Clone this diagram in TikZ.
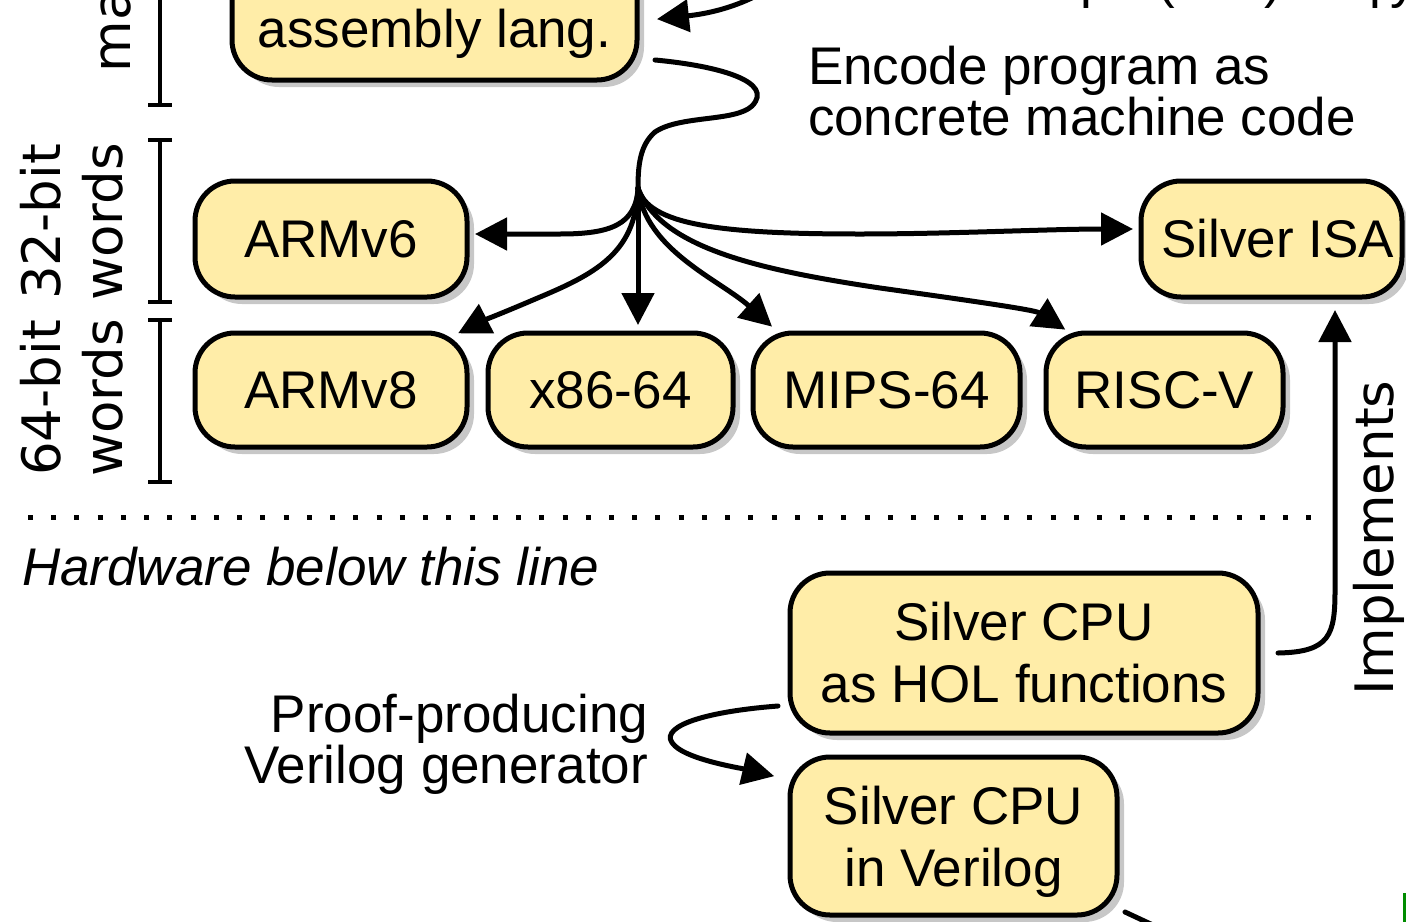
\documentclass[tikz,border=0pt]{standalone}
\usepackage{fontspec}
\setmainfont{Liberation Sans}
\newfontfamily\dejavu{DejaVu Sans}
\usetikzlibrary{arrows.meta,shadows,calc}
\definecolor{boxfill}{RGB}{255,237,168}
\newcommand\mfs{\fontsize{26.5pt}{31pt}\selectfont}
\newcommand\lfs{\fontsize{26.5pt}{24.5pt}\selectfont}
\newcommand\dfs{\dejavu\fontsize{26.5pt}{31pt}\selectfont}
\begin{document}
\begin{tikzpicture}[x=0.5pt,y=-0.5pt,
 box/.style={draw, line width=2.5pt, rounded corners=20pt, fill=boxfill, inner sep=0pt, outer sep=0pt, align=center, font=\mfs, drop shadow={shadow xshift=3.5pt, shadow yshift=-3.5pt, fill=black!22, opacity=1}},
 wire/.style={line width=2.5pt, line cap=round},
 conn/.style={wire, -{Triangle[length=16pt,width=16pt]}, shorten >=4pt},
 brk/.style={line width=2pt},
 lbl/.style={inner sep=0pt, outer sep=0pt, font=\lfs},
 rot/.style={inner sep=0pt, outer sep=0pt, font=\dfs, rotate=90},
]
\useasboundingbox (0,0) rectangle (1406,921);
\clip (0,0) rectangle (1406,921);

% boxes
\node[box, minimum width=202.5pt, minimum height=72pt] (asm) at (434.5,8) {};
\node[inner sep=0pt, font=\mfs, anchor=base] (asmtext) at (434.5,47) {assembly lang.};
\node[box, minimum width=136pt, minimum height=58pt] (armsix) at (331,239) {ARMv6};
\node[box, minimum width=136pt, minimum height=57pt] (armeight) at (331,390) {ARMv8};
\node[box, minimum width=122.5pt, minimum height=57pt] (xes) at (610.5,390) {x86-64};
\node[box, minimum width=133.5pt, minimum height=57pt] (mips) at (886.5,390) {MIPS-64};
\node[box, minimum width=118.5pt, minimum height=57pt] (riscv) at (1164.5,390) {RISC-V};
\node[box, minimum width=130.5pt, minimum height=58pt] (isa) at (1271.5,239) {\hspace*{6pt}Silver ISA};
\node[box, minimum width=234pt, minimum height=80pt] (hol) at (1024,653) {Silver CPU\\as HOL functions};
\node[box, minimum width=163.5pt, minimum height=79pt] (verilog) at (953.5,836) {\rule{0pt}{25pt}Silver CPU\\in Verilog};

% labels
\node[lbl, align=left, anchor=north west] (encode) at (808,46) {Encode program as\\concrete machine code};
\node[lbl, align=right, anchor=north east] (proof) at (648,694) {Proof-producing\\Verilog generator};
\node[lbl, anchor=base west, font=\mfs\itshape] (hw) at (22,585) {Hardware below this line};
\node[rot, align=center] (bitsa) at (72,222) {32-bit\\words};
\node[rot, align=center] (bitsb) at (72,398) {64-bit\\words};
\node[rot, anchor=base west] (ma) at (130,72) {ma};
\node[rot, anchor=base west] (impl) at (1393,695) {Implements};

% cut-off text at top right
\node[lbl, anchor=base west] (fa) at (1080,-3) {p};
\node[lbl, anchor=base west] (fb) at (1157,-3) {(};
\node[lbl, anchor=base west] (fc) at (1264,-3) {)};
\node[lbl, anchor=base west] (fd) at (1369,-3) {p};
\node[lbl, anchor=base west] (fe) at (1390,-3) {y};

% brackets
\draw[brk] (148,105) -- (172,105) (160,105) -- (160,-10);
\draw[brk] (148,140) -- (172,140) (160,140) -- (160,302) (148,302) -- (172,302);
\draw[brk] (148,320) -- (172,320) (160,320) -- (160,482) (148,482) -- (172,482);

% dotted separator
\draw[line width=2.5pt, dash pattern=on 2.5pt off 9.12pt] (28,517) -- (1312,517);

% connectors
\coordinate (asmsrc) at (775,-15);
\draw[conn] (asmsrc) .. controls (740,8) and (705,14) .. ([shift={(12,12)}]asm.east);

\coordinate (br) at (638,188);
\draw[wire] ([shift={(18,-20)}]asm.south east) .. controls (720,66) and (775,82) .. (752,106)
  .. controls (735,122) and (680,115) .. (655,132) .. controls (640,145) and (638,165) .. (br);

\draw[conn] (br) .. controls (636,225) and (610,234) .. (560,234) -- ([shift={(0,-5)}]armsix.east);
\draw[conn] (br) .. controls (648,225) and (720,234) .. (860,234) .. controls (950,234) and (1050,229) .. ([shift={(0,-10)}]isa.west);
\draw[conn] (br) .. controls (636,250) and (600,272) .. (540,297) .. controls (505,312) and (480,322) .. ([shift={(-16,4)}]armeight.north east);
\draw[conn] (br) -- (br |- xes.north);
\draw[conn] (br) .. controls (645,250) and (720,280) .. ([shift={(25,-1)}]mips.north west);
\draw[conn] (br) .. controls (660,248) and (760,270) .. (880,288) .. controls (980,302) and (1035,310) .. ([shift={(26,1)}]riscv.north west);

\draw[conn] ([shift={(20,0)}]hol.east) .. controls (1330,652) and (1335,635) .. (1335,590) -- ([shift={(63.5,5)}]isa.south);
\draw[conn] ([shift={(-12,53)}]hol.west) .. controls (700,712) and (655,728) .. (675,746) .. controls (690,760) and (740,768) .. ([shift={(-8,-58)}]verilog.west);

\coordinate (vout) at (1185,940);
\draw[wire] ([shift={(8,-3)}]verilog.south east) -- (vout);

% green edge at bottom right
\draw[green!55!black, line width=2pt] (1405,893) -- (1405,930);
\end{tikzpicture}
\end{document}
